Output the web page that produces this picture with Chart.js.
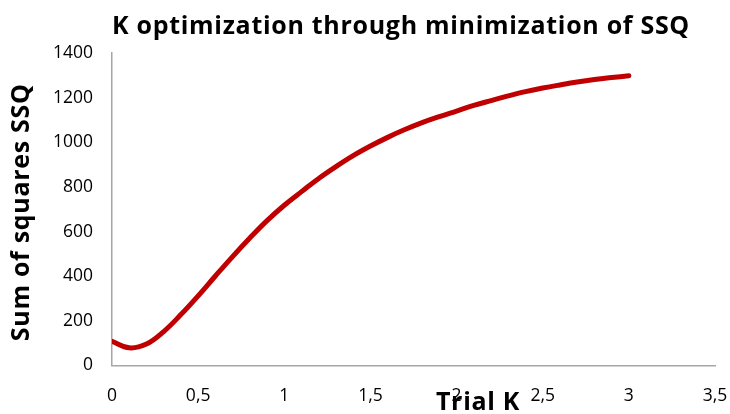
<!DOCTYPE html>
<html>
<head>
<meta charset="utf-8">
<script src="https://cdn.jsdelivr.net/npm/chart.js@4"></script>
<style>
  html, body { margin: 0; padding: 0; background: #fff; }
  #wrap { width: 730px; height: 414px; }
</style>
</head>
<body>
<div id="wrap"><canvas id="c" width="730" height="414"></canvas></div>
<script>
const trialK = [0, 0.1, 0.2, 0.3, 0.4, 0.5, 0.6, 0.7, 0.8, 0.9, 1.0, 1.1, 1.2, 1.3, 1.4, 1.5, 1.6, 1.7, 1.8, 1.9, 2.0, 2.1, 2.2, 2.3, 2.4, 2.5, 2.6, 2.7, 2.8, 2.9, 3.0];
const ssq = [108, 79, 96, 152, 228, 312, 401, 488, 571, 649, 718, 779, 838, 891, 940, 983, 1022, 1057, 1088, 1115, 1140, 1165, 1187, 1208, 1227, 1243, 1257, 1270, 1281, 1290, 1298];
const chartTitle = "K optimization through minimization of SSQ";
const xTitle = "Trial K";
const yTitle = "Sum of squares SSQ";

const FONT = "'Open Sans', Lato, sans-serif";
const TITLE_FONT = "bold 25px " + FONT;

function drawText(ctx, text, x, y, angle) {
  ctx.save();
  ctx.font = TITLE_FONT;
  try { ctx.letterSpacing = "0.7px"; } catch (e) {}
  ctx.fillStyle = "#000";
  ctx.textAlign = "center";
  ctx.textBaseline = "middle";
  ctx.translate(x, y);
  if (angle) ctx.rotate(angle);
  ctx.fillText(text, 0, 0);
  ctx.restore();
}

const titlesPlugin = {
  id: 'titlesPlugin',
  afterDraw(chart) {
    const ctx = chart.ctx;
    const xs = chart.scales.x;
    const ys = chart.scales.y;
    drawText(ctx, chartTitle, 401, 27, 0);
    drawText(ctx, xTitle, xs.left + xs.width * 0.607, 403, 0);
    drawText(ctx, yTitle, 22, (ys.top + ys.bottom) / 2 + 3, -Math.PI / 2);
  }
};

new Chart(document.getElementById('c'), {
  type: 'scatter',
  data: {
    datasets: [{
      data: trialK.map((k, i) => ({ x: k, y: ssq[i] })),
      showLine: true,
      borderColor: '#C00000',
      borderWidth: 5,
      borderCapStyle: 'round',
      pointRadius: 0,
      tension: 0.4
    }]
  },
  options: {
    responsive: false,
    animation: false,
    layout: { padding: { left: 0, right: 15, top: 53, bottom: 0 } },
    plugins: {
      legend: { display: false },
      tooltip: { enabled: false },
      title: { display: false }
    },
    scales: {
      x: {
        type: 'linear',
        min: 0, max: 3.5,
        grid: { display: false, drawTicks: false },
        border: { display: true, color: '#A6A6A6', width: 1.5 },
        ticks: {
          stepSize: 0.5,
          padding: 20,
          color: '#000',
          font: { family: FONT, size: 17.5 },
          callback: v => String(v).replace('.', ',')
        },
        afterFit(scale) {
          scale.height = 48.5;
          scale.paddingLeft = 0;
          scale.paddingRight = 0;
        }
      },
      y: {
        min: 0, max: 1400,
        grid: { display: false, drawTicks: false },
        border: { display: true, color: '#A6A6A6', width: 1.5 },
        ticks: {
          stepSize: 200,
          padding: 19,
          color: '#000',
          font: { family: FONT, size: 17.5 },
          callback: v => String(v)
        },
        afterFit(scale) {
          scale.width = 112;
          scale.paddingTop = 0;
          scale.paddingBottom = 0;
        }
      }
    }
  },
  plugins: [titlesPlugin]
});
</script>
</body>
</html>
